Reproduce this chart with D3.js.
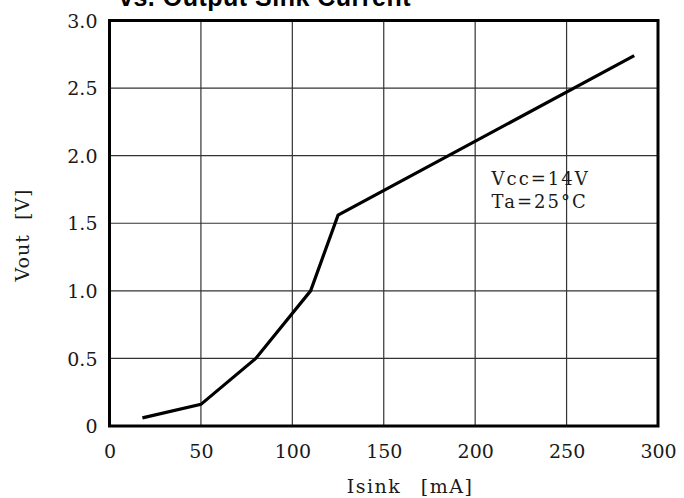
<!DOCTYPE html>
<html>
<head>
<meta charset="utf-8">
<script src="https://cdn.jsdelivr.net/npm/d3@7"></script>
<style>
  html, body { margin: 0; padding: 0; background: #fff; }
  svg { display: block; }
</style>
</head>
<body>
<svg id="chart" width="684" height="498"></svg>
<script>
// Output voltage vs. sink current, Vcc = 14 V, Ta = 25 °C
const isink = [18, 50, 80, 110, 125, 287];
const vout  = [0.06, 0.16, 0.50, 1.00, 1.56, 2.74];
const xTicks = [0, 50, 100, 150, 200, 250, 300];
const yTicks = [0, 0.5, 1.0, 1.5, 2.0, 2.5, 3.0];
const yTickLabels = ["0", "0.5", "1.0", "1.5", "2.0", "2.5", "3.0"];
const titleText = "vs. Output Sink Current";
const xLabel = "Isink [mA]";
const yLabel = "Vout [V]";
const noteLines = ["Vcc=14V", "Ta=25°C"];

const svg = d3.select("#chart");
const m = { left: 109.5, right: 658, top: 20.5, bottom: 426 };

const x = d3.scaleLinear().domain([0, 300]).range([m.left, m.right]);
const y = d3.scaleLinear().domain([0, 3]).range([m.bottom, m.top]);

const serif = "'DejaVu Serif', 'Liberation Serif', serif";
const ink = "#1a1a1a";

// grid
const grid = svg.append("g").attr("stroke", "#333").attr("stroke-width", 1.2);
grid.selectAll("line.gx").data(xTicks.slice(1, -1)).join("line")
  .attr("x1", d => x(d)).attr("x2", d => x(d))
  .attr("y1", m.top).attr("y2", m.bottom);
grid.selectAll("line.gy").data(yTicks.slice(1, -1)).join("line")
  .attr("x1", m.left).attr("x2", m.right)
  .attr("y1", d => y(d)).attr("y2", d => y(d));

// frame
svg.append("rect")
  .attr("x", m.left).attr("y", m.top)
  .attr("width", m.right - m.left).attr("height", m.bottom - m.top)
  .attr("fill", "none").attr("stroke", "#000").attr("stroke-width", 3);

// axes (labels only; frame already drawn)
const xAxis = d3.axisBottom(x).tickValues(xTicks).tickSize(0).tickPadding(0)
  .tickFormat(d3.format("d"));
const gx = svg.append("g").attr("transform", `translate(0,${m.bottom})`).call(xAxis);
gx.select(".domain").remove();
gx.selectAll("text")
  .attr("y", 32).attr("dy", null)
  .attr("fill", ink)
  .style("font-family", serif).style("font-size", "19px")
  .style("font-weight", "normal");

const yAxis = d3.axisLeft(y).tickValues(yTicks).tickSize(0).tickPadding(0)
  .tickFormat((d, i) => yTickLabels[i]);
const gy = svg.append("g").attr("transform", `translate(${m.left},0)`).call(yAxis);
gy.select(".domain").remove();
gy.selectAll("text")
  .attr("x", -12).attr("dy", "0.35em")
  .attr("fill", ink)
  .style("font-family", serif).style("font-size", "19px");

// curve
const line = d3.line().x((d, i) => x(isink[i])).y(d => y(d));
svg.append("path")
  .datum(vout)
  .attr("d", line)
  .attr("fill", "none")
  .attr("stroke", "#000")
  .attr("stroke-width", 3.2)
  .attr("stroke-linejoin", "miter");

// condition note
const noteX = x(209);
const note = svg.append("text")
  .attr("x", noteX)
  .attr("y", y(1.78))
  .attr("fill", ink)
  .style("font-family", serif).style("font-size", "18px")
  .style("letter-spacing", "2px");
note.selectAll("tspan").data(noteLines).join("tspan")
  .attr("x", noteX).attr("dy", (d, i) => i === 0 ? 0 : 23)
  .text(d => d);

// axis titles
svg.append("text")
  .attr("x", 410).attr("y", 493)
  .attr("text-anchor", "middle")
  .attr("fill", ink)
  .style("font-family", serif).style("font-size", "19px")
  .style("letter-spacing", "1.5px").style("word-spacing", "12px")
  .text(xLabel);

svg.append("text")
  .attr("transform", "translate(29,235) rotate(-90)")
  .attr("text-anchor", "middle")
  .attr("fill", ink)
  .style("font-family", serif).style("font-size", "19px")
  .style("letter-spacing", "1px").style("word-spacing", "7px")
  .text(yLabel);

// title (upper line runs off the top)
svg.append("text")
  .attr("x", 119).attr("y", 6)
  .attr("fill", "#000")
  .style("font-family", "'Liberation Sans', Arial, sans-serif")
  .style("font-size", "25px").style("font-weight", "bold")
  .style("letter-spacing", "0.5px")
  .text(titleText);
</script>
</body>
</html>
